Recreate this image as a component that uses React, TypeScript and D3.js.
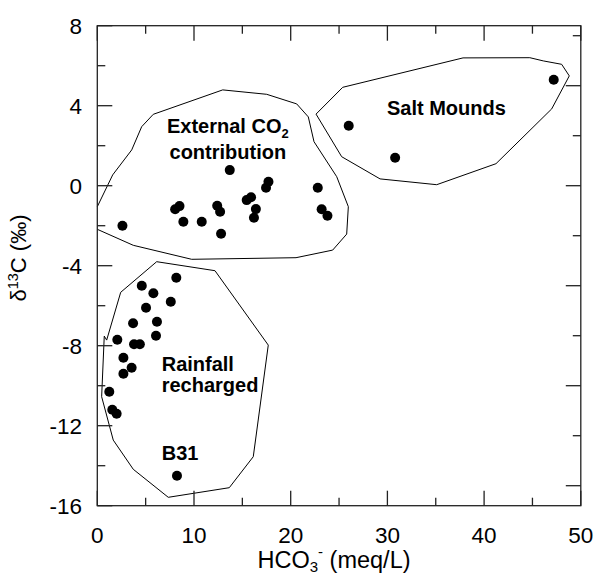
import * as d3 from 'd3'
import { useEffect, useRef } from 'react'

// samples: HCO3- (meq/L) vs d13C (permil)
const externalX = [2.6, 8.05, 8.5, 8.9, 10.8, 12.4, 12.7, 12.8, 13.7, 15.45, 15.9, 16.4, 16.2, 17.45, 17.7, 22.8, 23.2, 23.8]
const externalY = [-2.0, -1.18, -1.02, -1.8, -1.8, -1.0, -1.3, -2.4, 0.78, -0.72, -0.58, -1.17, -1.6, -0.1, 0.2, -0.1, -1.18, -1.5]

const saltX = [26.0, 30.8, 47.2]
const saltY = [3.0, 1.4, 5.3]

const rainX = [8.17, 4.6, 5.8, 7.6, 5.04, 3.7, 6.17, 6.07, 2.07, 3.8, 4.4, 2.7, 3.55, 2.7, 1.24, 1.55, 2.0, 8.24]
const rainY = [-4.6, -5.0, -5.38, -5.8, -6.1, -6.88, -6.8, -7.5, -7.7, -7.93, -7.93, -8.6, -9.1, -9.4, -10.3, -11.2, -11.4, -14.5]

// hand drawn group outlines
const externalHull = [
  [0, -1.05], [1.59, 0.54], [3.56, 1.79], [4.59, 2.95], [5.79, 3.57], [12.97, 4.79],
  [17.52, 4.57], [20.62, 4.09], [21.82, 3.44], [22.41, 2.2], [24.76, 0.45], [25.96, -1.05],
  [25.79, -2.42], [24.34, -3.22], [20.55, -3.6], [9.76, -3.68], [3.72, -2.98], [0, -2.18],
]
const saltHull = [
  [22.62, 3.58], [25.38, 4.92], [37.82, 6.39], [44.73, 6.4], [46.12, 6.24], [48.02, 6.07],
  [48.81, 5.49], [46.99, 3.84], [41.23, 1.1], [35.1, 0.05], [29.24, 0.34], [25.27, 1.45], [22.62, 3.58],
]
const rainHull = [
  [6.14, -3.8], [12.17, -4.25], [17.68, -7.97], [16.13, -13.55], [13.65, -15.1], [7.34, -15.58],
  [3.72, -14.18], [1.65, -12.72], [0.45, -10.55], [0.72, -7.52], [0.97, -7.72], [2.42, -5.33], [6.14, -3.8],
]

const xTicks = [0, 10, 20, 30, 40, 50]
const yTicks = [8, 4, 0, -4, -8, -12, -16]

const App = () => {
  const ref = useRef<SVGSVGElement>(null)

  useEffect(() => {
    var svg = d3.select(ref.current)
    svg.selectAll('*').remove()

    var left = 97.3,
      right = 580.8,
      top = 25.7,
      bottom = 505.7

    var x = d3.scaleLinear().domain([0, 50]).range([left, right])
    var y = d3.scaleLinear().domain([-16, 8]).range([bottom, top])

    var font = 'Liberation Sans, Arial, sans-serif'
    var line = d3
      .line()
      .x(function (d: number[]) {
        return x(d[0])
      })
      .y(function (d: number[]) {
        return y(d[1])
      })

    // outlines
    ;[externalHull, saltHull, rainHull].forEach(function (h) {
      svg
        .append('path')
        .attr('d', line(h as any))
        .attr('fill', 'none')
        .attr('stroke', '#000')
        .attr('stroke-width', 1)
    })

    // frame
    svg
      .append('rect')
      .attr('x', left)
      .attr('y', top)
      .attr('width', right - left)
      .attr('height', bottom - top)
      .attr('fill', 'none')
      .attr('stroke', '#222')
      .attr('stroke-width', 1.3)

    var ticks = svg.append('g').attr('stroke', '#222').attr('stroke-width', 1.3)

    // bottom and top ticks, 10 major, 5 minor
    d3.range(0, 51, 5).forEach(function (v) {
      var len = v % 10 === 0 ? 15 : 8
      ticks.append('line').attr('x1', x(v)).attr('x2', x(v)).attr('y1', bottom).attr('y2', bottom - len)
      ticks.append('line').attr('x1', x(v)).attr('x2', x(v)).attr('y1', top).attr('y2', top + len)
    })
    // left ticks, 4 major, 2 minor
    d3.range(-16, 9, 2).forEach(function (v) {
      var len = v % 4 === 0 ? 15 : 8
      ticks.append('line').attr('x1', left).attr('x2', left + len).attr('y1', y(v)).attr('y2', y(v))
    })
    // right ticks, 5 major, 2.5 minor
    d3.range(-15, 8, 2.5).forEach(function (v) {
      var len = v % 5 === 0 ? 15 : 8
      ticks.append('line').attr('x1', right).attr('x2', right - len).attr('y1', y(v)).attr('y2', y(v))
    })

    svg
      .append('g')
      .selectAll('text')
      .data(xTicks)
      .enter()
      .append('text')
      .attr('x', function (d) {
        return x(d)
      })
      .attr('y', 543.3)
      .attr('text-anchor', 'middle')
      .style('font-family', font)
      .style('font-size', '22.5px')
      .text(function (d) {
        return d
      })

    svg
      .append('g')
      .selectAll('text')
      .data(yTicks)
      .enter()
      .append('text')
      .attr('x', 82)
      .attr('y', function (d) {
        return y(d)
      })
      .attr('dy', '0.36em')
      .attr('text-anchor', 'end')
      .style('font-family', font)
      .style('font-size', '22.5px')
      .text(function (d) {
        return d
      })

    // axis titles
    var xt = svg
      .append('text')
      .attr('x', 334)
      .attr('y', 567.5)
      .attr('text-anchor', 'middle')
      .style('font-family', font)
      .style('font-size', '23.5px')
    xt.append('tspan').text('HCO')
    xt.append('tspan').attr('dy', 4).style('font-size', '15px').text('3')
    xt.append('tspan').attr('dy', -14.5).style('font-size', '15px').text('-')
    xt.append('tspan').attr('dy', 10.5).text(' (meq/L)')

    var yt = svg
      .append('text')
      .attr('transform', 'translate(25.5,258) rotate(-90)')
      .attr('text-anchor', 'middle')
      .style('font-family', font)
      .style('font-size', '22px')
    yt.append('tspan').text('δ')
    yt.append('tspan').attr('dy', -8).style('font-size', '14.5px').text('13')
    yt.append('tspan').attr('dy', 8).text('C (‰)')

    // dots
    var pts = externalX
      .map(function (v, i) {
        return [v, externalY[i]]
      })
      .concat(
        saltX.map(function (v, i) {
          return [v, saltY[i]]
        }),
        rainX.map(function (v, i) {
          return [v, rainY[i]]
        }),
      )
    svg
      .append('g')
      .selectAll('circle')
      .data(pts)
      .enter()
      .append('circle')
      .attr('cx', function (d) {
        return x(d[0])
      })
      .attr('cy', function (d) {
        return y(d[1])
      })
      .attr('r', 5)
      .attr('fill', '#000')

    // group labels
    function label(vx: number, vy: number, anchor: string, txt: string) {
      return svg
        .append('text')
        .attr('x', x(vx))
        .attr('y', y(vy))
        .attr('text-anchor', anchor)
        .style('font-family', font)
        .style('font-size', '20px')
        .style('font-weight', 'bold')
        .text(txt)
    }
    var ext = label(13.5, 2.65, 'middle', 'External CO')
    ext.append('tspan').attr('dy', 5).style('font-size', '13px').text('2')
    label(13.5, 1.32, 'middle', 'contribution')
    label(36.1, 3.53, 'middle', 'Salt Mounds')
    label(6.66, -9.25, 'start', 'Rainfall')
    label(6.66, -10.33, 'start', 'recharged')
    label(6.66, -13.7, 'start', 'B31')
  }, [])

  return (
    <svg
      ref={ref}
      width={597}
      height={576}
      style={{ position: 'absolute', left: 0, top: 0, background: '#fff' }}
    ></svg>
  )
}

export default App
